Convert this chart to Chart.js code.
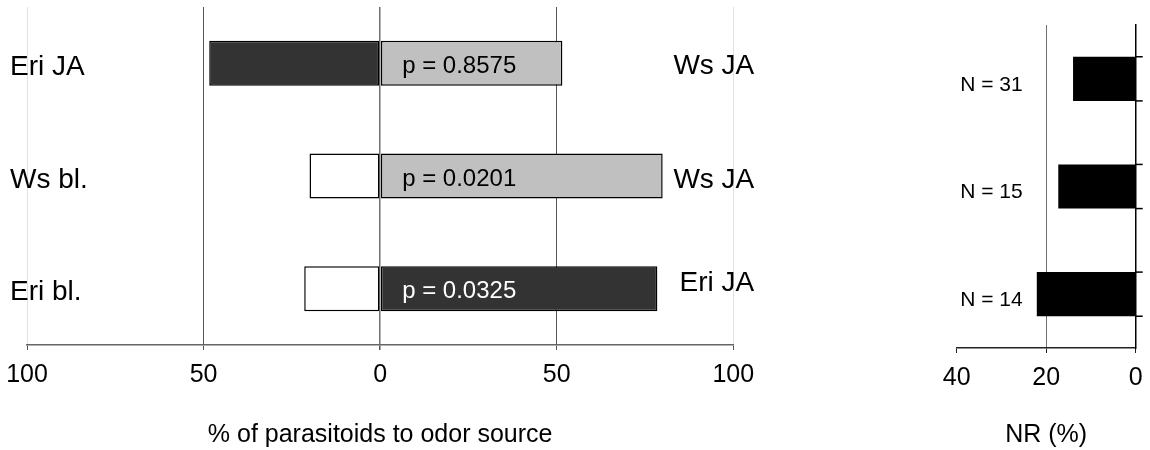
<!DOCTYPE html>
<html>
<head>
<meta charset="utf-8">
<script src="https://cdn.jsdelivr.net/npm/chart.js@4/dist/chart.umd.min.js"></script>
<style>
    body { margin: 0; background: #fff; }
    #choice { position: absolute; left: 0; top: 0; }
    #nr { position: absolute; left: 900px; top: 0; }
</style>
</head>
<body>
<canvas id="choice" width="780" height="450"></canvas>
<canvas id="nr" width="250" height="450"></canvas>
<script>
// Data
const leftSources = ['Eri JA', 'Ws bl.', 'Eri bl.'];
const rightSources = ['Ws JA', 'Ws JA', 'Eri JA'];
const leftPercent = [48.4, 20.0, 21.5];
const rightPercent = [51.6, 80.0, 78.5];
const pValues = ['0.8575', '0.0201', '0.0325'];
const choiceTicks = [-100, -50, 0, 50, 100];
const nrPercent = [14.0, 17.3, 22.1];
const sampleSizes = [31, 15, 14];
const nrTicks = [0, 20, 40];

const FONT = '"Liberation Sans", Arial, sans-serif';
Chart.defaults.font.family = FONT;
Chart.defaults.color = '#000';

// fill by odor source
const DARK = '#333333', GRAY = '#c0c0c0', WHITE = '#ffffff';
const fillFor = name => name.startsWith('Eri JA') ? DARK : name.startsWith('Ws JA') ? GRAY : WHITE;

// keep the plot edges where the layout padding puts them
const noLabelOverflow = s => { s.paddingLeft = 0; s.paddingRight = 0; };

// text next to the bars
const choiceLabels = {
    id: 'choiceLabels',
    afterDatasetsDraw(chart) {
        const { ctx, scales: { x, y } } = chart;
        const rightDy = [3, 4, -5];
        ctx.save();
        ctx.textBaseline = 'middle';
        leftSources.forEach((name, i) => {
            const yc = y.getPixelForValue(i);
            ctx.font = '28px ' + FONT;
            ctx.fillStyle = '#000';
            ctx.textAlign = 'left';
            ctx.fillText(name, x.getPixelForValue(-100) - 17, yc + 4);
            ctx.textAlign = 'right';
            ctx.fillText(rightSources[i], x.getPixelForValue(100) + 21, yc + rightDy[i]);
            ctx.font = '24px ' + FONT;
            ctx.fillStyle = fillFor(rightSources[i]) === DARK ? '#fff' : '#000';
            ctx.textAlign = 'left';
            ctx.fillText('p = ' + pValues[i], x.getPixelForValue(0) + 22, yc + 3);
        });
        ctx.restore();
    }
};

new Chart(document.getElementById('choice'), {
    type: 'bar',
    data: {
        labels: leftSources.map((s, i) => s + ' / ' + rightSources[i]),
        datasets: [
            { data: leftPercent.map(v => -v), backgroundColor: leftSources.map(fillFor) },
            { data: rightPercent, backgroundColor: rightSources.map(fillFor) }
        ]
    },
    options: {
        indexAxis: 'y',
        responsive: false,
        animation: false,
        layout: { padding: { left: 27, right: 46.7, top: 7, bottom: 0 } },
        datasets: { bar: { borderColor: '#000', borderWidth: 1.5, borderSkipped: false, categoryPercentage: 1, barPercentage: 0.4 } },
        plugins: { legend: { display: false }, tooltip: { enabled: false } },
        scales: {
            x: {
                stacked: true,
                min: -100,
                max: 100,
                afterFit: noLabelOverflow,
                afterBuildTicks: s => { s.ticks = choiceTicks.map(v => ({ value: v })); },
                ticks: { callback: v => Math.abs(v), font: { size: 25 }, padding: 10.5, maxRotation: 0 },
                grid: {
                    color: c => Math.abs(c.tick.value) === 100 ? '#e2e2e2' : (c.tick.value === 0 ? '#707070' : '#555'),
                    lineWidth: c => c.tick.value === 0 ? 1.5 : 1,
                    tickColor: '#555',
                    tickLength: 5
                },
                border: { color: '#666', width: 1.5 },
                title: { display: true, text: '% of parasitoids to odor source', font: { size: 25 }, padding: { top: 19, bottom: 0 } }
            },
            y: { stacked: true, display: false }
        }
    },
    plugins: [choiceLabels]
});

// N labels and the short marks on the right axis
const nrExtras = {
    id: 'nrExtras',
    afterDatasetsDraw(chart) {
        const { ctx, chartArea, scales: { x, y } } = chart;
        ctx.save();
        ctx.font = '21px ' + FONT;
        ctx.fillStyle = '#000';
        ctx.textAlign = 'right';
        ctx.textBaseline = 'middle';
        sampleSizes.forEach((n, i) => {
            ctx.fillText('N = ' + n, x.getPixelForValue(40) + 66, y.getPixelForValue(i) + 6);
        });
        ctx.strokeStyle = '#000';
        ctx.lineWidth = 1.5;
        chart.getDatasetMeta(0).data.forEach(bar => {
            const { y: by, height } = bar.getProps(['y', 'height'], true);
            [by - height / 2, by + height / 2].forEach(yy => {
                ctx.beginPath();
                ctx.moveTo(chartArea.right, yy);
                ctx.lineTo(chartArea.right + 7, yy);
                ctx.stroke();
            });
        });
        ctx.restore();
    }
};

new Chart(document.getElementById('nr'), {
    type: 'bar',
    data: {
        labels: sampleSizes.map(n => 'N = ' + n),
        datasets: [{ data: nrPercent, backgroundColor: '#000', borderWidth: 0, categoryPercentage: 1, barPercentage: 0.41 }]
    },
    options: {
        indexAxis: 'y',
        responsive: false,
        animation: false,
        layout: { padding: { left: 56.7, right: 14.3, top: 25, bottom: 0 } },
        plugins: { legend: { display: false }, tooltip: { enabled: false } },
        scales: {
            x: {
                min: 0,
                max: 40,
                reverse: true,
                afterFit: noLabelOverflow,
                afterBuildTicks: s => { s.ticks = nrTicks.map(v => ({ value: v })); },
                ticks: { font: { size: 25 }, padding: 10.5, maxRotation: 0 },
                grid: {
                    color: c => c.tick.value === 20 ? '#707070' : 'rgba(0,0,0,0)',
                    tickColor: '#222',
                    tickLength: 5
                },
                border: { color: '#222', width: 1.5 },
                title: { display: true, text: 'NR (%)', font: { size: 25 }, padding: { top: 16, bottom: 0 } }
            },
            y: {
                position: 'right',
                ticks: { display: false },
                grid: { display: false, drawTicks: false },
                border: { display: true, color: '#000', width: 1.5 }
            }
        }
    },
    plugins: [nrExtras]
});
</script>
</body>
</html>
